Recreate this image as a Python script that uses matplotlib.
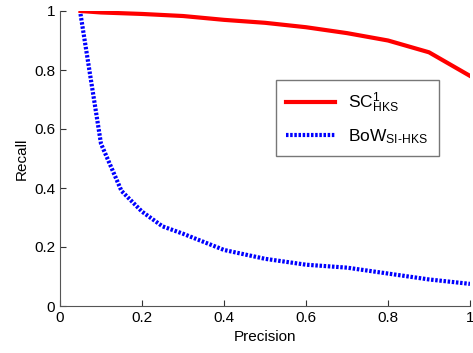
import matplotlib
matplotlib.use("Agg")
import matplotlib.pyplot as plt

plt.rcParams['font.family'] = ['Liberation Sans', 'DejaVu Sans']
plt.rcParams['mathtext.fontset'] = 'custom'
plt.rcParams['mathtext.rm'] = 'Liberation Sans'
plt.rcParams['mathtext.it'] = 'Liberation Sans'

sc_x = [0.05, 0.1, 0.2, 0.3, 0.4, 0.5, 0.6, 0.7, 0.8, 0.9, 1.0]
sc_y = [1.0, 0.995, 0.99, 0.983, 0.97, 0.96, 0.945, 0.925, 0.9, 0.86, 0.78]
bow_x = [0.05, 0.1, 0.15, 0.2, 0.25, 0.3, 0.4, 0.5, 0.6, 0.7, 0.8, 0.9, 1.0]
bow_y = [0.99, 0.55, 0.39, 0.32, 0.27, 0.245, 0.19, 0.16, 0.14, 0.13, 0.11, 0.09, 0.075]
xticks = [0, 0.2, 0.4, 0.6, 0.8, 1]
yticks = [0, 0.2, 0.4, 0.6, 0.8, 1]

fig = plt.figure(figsize=(4.73, 3.53), dpi=100)
ax = fig.add_axes([60/473, 47/353, 410/473, 295/353])
ax.plot(sc_x, sc_y, color='#ff0000', lw=3, label=r'SC$^{\mathrm{1}}_{\mathrm{HKS}}$')
ax.plot(bow_x, bow_y, color='#0000ff', lw=3, ls=(0, (0.6, 0.4)), label=r'BoW$_{\mathrm{SI\text{-}HKS}}$')
ax.set_xlim(0, 1)
ax.set_ylim(0, 1)
ax.set_xticks(xticks)
ax.set_yticks(yticks)
ax.set_xticklabels(['0', '0.2', '0.4', '0.6', '0.8', '1'])
ax.set_yticklabels(['0', '0.2', '0.4', '0.6', '0.8', '1'])
ax.spines['top'].set_visible(False)
ax.spines['right'].set_visible(False)
for s in ['left', 'bottom']:
    ax.spines[s].set_color('#555555')
ax.tick_params(direction='in', length=4, labelsize=11, color='#333333')
ax.set_xlabel('Precision', fontsize=11)
ax.set_ylabel('Recall', fontsize=11)
leg = ax.legend(loc='upper right', bbox_to_anchor=(0.945, 0.795), fontsize=12.5, fancybox=False,
                framealpha=1, edgecolor='#777777', handlelength=2.8, borderpad=0.6, labelspacing=0.7)
leg.get_frame().set_linewidth(1.0)
fig.savefig('out.png', dpi=100)
